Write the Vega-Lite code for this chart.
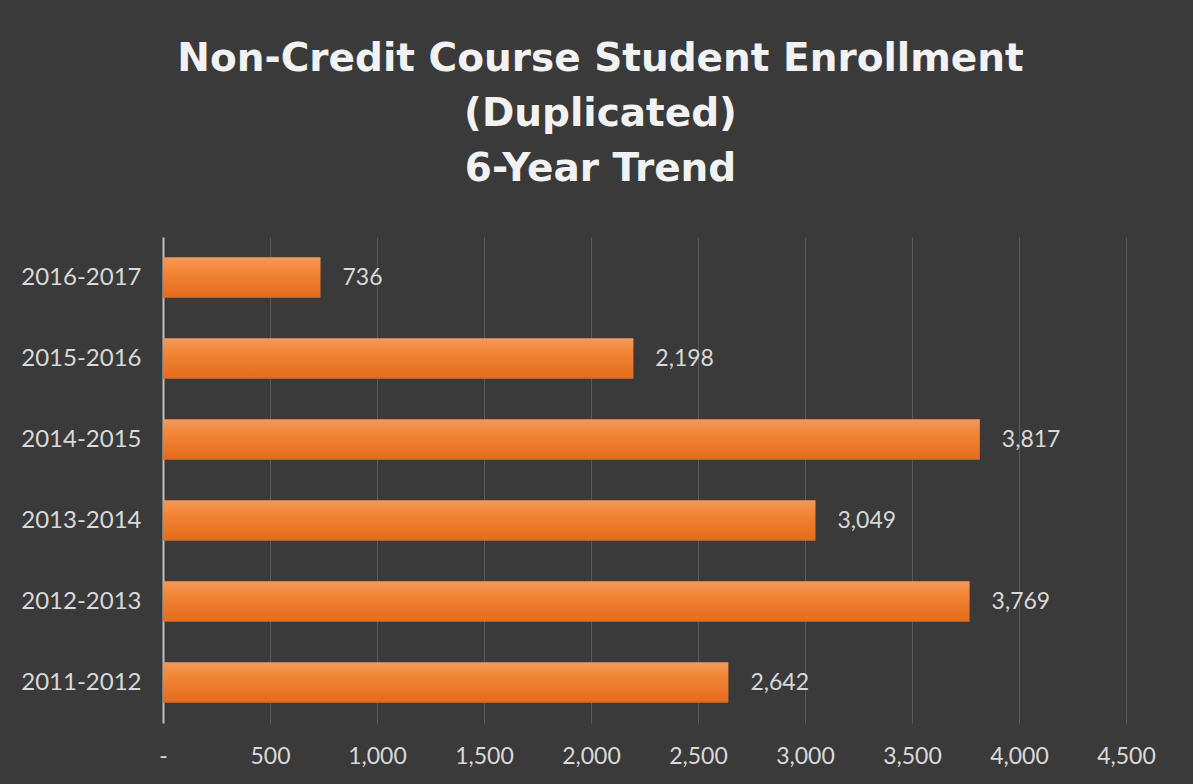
{
  "$schema": "https://vega.github.io/schema/vega-lite/v6.json",
  "width": 963,
  "height": 486,
  "autosize": {"type": "none"},
  "padding": {"left": 163, "top": 237, "right": 67, "bottom": 61},
  "background": "#3a3a3a",
  "config": {
    "view": {"stroke": null},
    "font": "Lato"
  },
  "title": {
    "text": ["Non-Credit Course Student Enrollment", "(Duplicated)", "6-Year Trend"],
    "font": "DejaVu Sans",
    "fontSize": 39,
    "fontWeight": "bold",
    "color": "#F2F2F2",
    "lineHeight": 55,
    "anchor": "middle",
    "frame": "group",
    "dx": -44,
    "offset": 48
  },
  "data": {
    "values": [
      {"year": "2016-2017", "enrollment": 736},
      {"year": "2015-2016", "enrollment": 2198},
      {"year": "2014-2015", "enrollment": 3817},
      {"year": "2013-2014", "enrollment": 3049},
      {"year": "2012-2013", "enrollment": 3769},
      {"year": "2011-2012", "enrollment": 2642}
    ]
  },
  "encoding": {
    "y": {
      "field": "year",
      "type": "nominal",
      "sort": ["2016-2017", "2015-2016", "2014-2015", "2013-2014", "2012-2013", "2011-2012"],
      "scale": {"paddingInner": 0.5, "paddingOuter": 0.25},
      "axis": {
        "title": null,
        "ticks": false,
        "domainColor": "#BFBFBF",
        "domainWidth": 2,
        "labelColor": "#D9D9D9",
        "labelFontSize": 24,
        "labelPadding": 22,
        "labelFont": "Lato"
      }
    },
    "x": {
      "field": "enrollment",
      "type": "quantitative",
      "scale": {"domain": [0, 4500], "nice": false},
      "axis": {
        "title": null,
        "values": [0, 500, 1000, 1500, 2000, 2500, 3000, 3500, 4000, 4500],
        "labelExpr": "datum.value == 0 ? '-' : format(datum.value, ',')",
        "labelFlush": false,
        "labelOverlap": false,
        "domain": false,
        "ticks": false,
        "grid": true,
        "gridColor": "#595959",
        "gridWidth": 1,
        "labelColor": "#D9D9D9",
        "labelFontSize": 23,
        "labelPadding": 22,
        "labelFont": "Lato"
      }
    }
  },
  "layer": [
    {
      "mark": {
        "type": "bar",
        "color": {
          "gradient": "linear",
          "x1": 0, "y1": 0, "x2": 0, "y2": 1,
          "stops": [
            {"offset": 0, "color": "#F39A5C"},
            {"offset": 0.35, "color": "#F28536"},
            {"offset": 1, "color": "#E46B1C"}
          ]
        }
      }
    },
    {
      "mark": {
        "type": "text",
        "align": "left",
        "baseline": "middle",
        "dx": 22,
        "fontSize": 23,
        "font": "Lato",
        "color": "#D9D9D9"
      },
      "encoding": {
        "text": {"field": "enrollment", "type": "quantitative", "format": ","}
      }
    }
  ]
}
